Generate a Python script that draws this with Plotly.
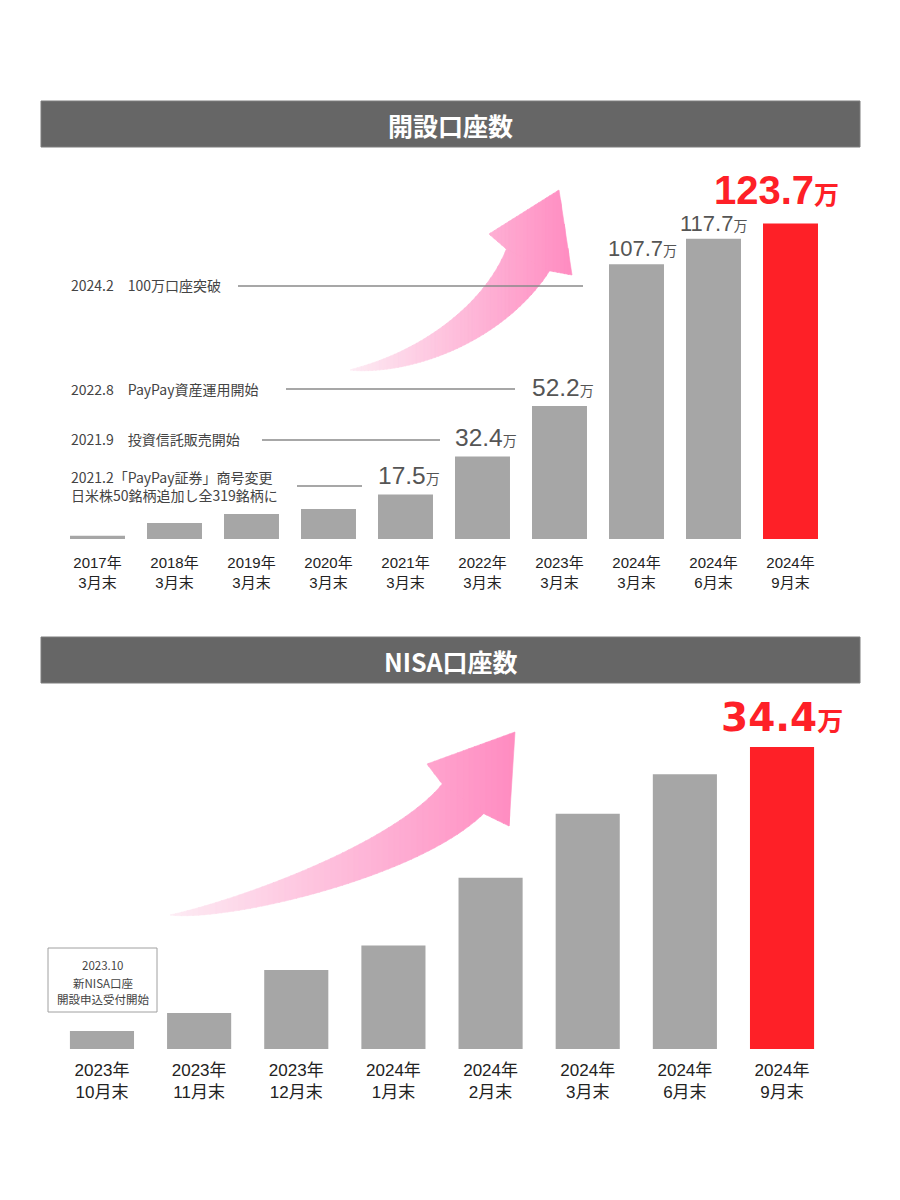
import math
import plotly.graph_objects as go

W, H = 900, 1200
OX, OY = 8, 8  # page body margin offset

# ---------------- data ----------------
acct_categories = ["2017年<br>3月末", "2018年<br>3月末", "2019年<br>3月末", "2020年<br>3月末",
                   "2021年<br>3月末", "2022年<br>3月末", "2023年<br>3月末", "2024年<br>3月末",
                   "2024年<br>6月末", "2024年<br>9月末"]
acct_values = [1.3, 6.3, 9.8, 11.8, 17.5, 32.4, 52.2, 107.7, 117.7, 123.7]
acct_value_labels = ["", "", "", "", "17.5", "32.4", "52.2", "107.7", "117.7", "123.7"]

nisa_categories = ["2023年<br>10月末", "2023年<br>11月末", "2023年<br>12月末", "2024年<br>1月末",
                   "2024年<br>2月末", "2024年<br>3月末", "2024年<br>6月末", "2024年<br>9月末"]
nisa_values = [2.05, 4.1, 9.0, 11.8, 19.5, 26.8, 31.3, 34.4]
nisa_value_labels = ["", "", "", "", "", "", "", "34.4"]

unit = "万"
titles = ["開設口座数", "NISA口座数"]
event_texts = ["2024.2　100万口座突破",
               "2022.8　PayPay資産運用開始",
               "2021.9　投資信託販売開始",
               "2021.2「PayPay証券」商号変更<br>日米株50銘柄追加し全319銘柄に"]
nisa_note_lines = ["2023.10", "新NISA口座", "開設申込受付開始"]

# ---------------- style ----------------
GRAY = "#a6a6a6"
RED = "#fe2027"
HEAD = "#666666"
CJK = "Noto Sans CJK JP"
REG = "Liberation Sans, " + CJK


def P(x, y):
    return (x - OX) / W, 1 - (y - OY) / H


def path_str(pts):
    return "M " + " L ".join(f"{(x - OX) / W:.5f},{1 - (y - OY) / H:.5f}" for x, y in pts) + " Z"


def cubic(p0, c1, c2, p3, t):
    a = (1 - t) ** 3
    b = 3 * (1 - t) ** 2 * t
    c = 3 * (1 - t) * t * t
    d = t ** 3
    return (a * p0[0] + b * c1[0] + c * c2[0] + d * p3[0],
            a * p0[1] + b * c1[1] + c * c2[1] + d * p3[1])


def dcubic(p0, c1, c2, p3, t):
    a = 3 * (1 - t) ** 2
    b = 6 * (1 - t) * t
    c = 3 * t * t
    return (a * (c1[0] - p0[0]) + b * (c2[0] - c1[0]) + c * (p3[0] - c2[0]),
            a * (c1[1] - p0[1]) + b * (c2[1] - c1[1]) + c * (p3[1] - c2[1]))


def arrow_parts(tail, c1, c2, neck_l, neck_r, wing_l, tip, wing_r, power=1.0, n=80):
    neck = ((neck_l[0] + neck_r[0]) / 2, (neck_l[1] + neck_r[1]) / 2)
    half = math.hypot(neck_r[0] - neck_l[0], neck_r[1] - neck_l[1]) / 2
    dx, dy = dcubic(tail, c1, c2, neck, 1.0)
    L = math.hypot(dx, dy)
    nx, ny = -dy / L, dx / L
    sign = 1 if (nx * (neck_l[0] - neck[0]) + ny * (neck_l[1] - neck[1])) > 0 else -1
    upper, lower = [], []
    for k in range(n + 1):
        t = k / n
        cx, cy = cubic(tail, c1, c2, neck, t)
        dx, dy = dcubic(tail, c1, c2, neck, t)
        L = math.hypot(dx, dy)
        nx, ny = sign * -dy / L, sign * dx / L
        w = half * t ** power
        upper.append((cx + w * nx, cy + w * ny))
        lower.append((cx - w * nx, cy - w * ny))
    upper[-1] = neck_l
    lower[-1] = neck_r
    body = upper + lower[::-1]
    ex = ((neck[0] - tip[0]) * 0.06, (neck[1] - tip[1]) * 0.06)
    head = [(neck_l[0] + ex[0], neck_l[1] + ex[1]), wing_l, tip, wing_r,
            (neck_r[0] + ex[0], neck_r[1] + ex[1])]
    return body, head


def clip_slab(poly, x0, x1):
    def clip(pts, keep, xc):
        out = []
        for i in range(len(pts)):
            cur, prev = pts[i], pts[i - 1]

            def inter(a, b):
                t = (xc - a[0]) / (b[0] - a[0])
                return (xc, a[1] + t * (b[1] - a[1]))
            if keep(cur):
                if not keep(prev):
                    out.append(inter(prev, cur))
                out.append(cur)
            elif keep(prev):
                out.append(inter(prev, cur))
        return out
    p = clip(poly, lambda q: q[0] >= x0, x0)
    if len(p) < 3:
        return []
    p = clip(p, lambda q: q[0] <= x1, x1)
    return p if len(p) >= 3 else []


def gradient_shapes(polys, c0=(253, 236, 244), c1=(255, 140, 193), strips=60):
    xs = [p[0] for poly in polys for p in poly]
    xmin, xmax = min(xs), max(xs)
    step = (xmax - xmin) / strips
    shapes = []
    for poly in polys:
        for i in range(strips):
            a = xmin + i * step
            b = a + step
            piece = clip_slab(poly, a - 0.4, b + 0.4)
            if not piece:
                continue
            t = (i + 0.5) / strips
            col = "rgb({},{},{})".format(*[round(c0[j] + (c1[j] - c0[j]) * t) for j in range(3)])
            shapes.append(dict(type="path", path=path_str(piece), xref="paper", yref="paper",
                               fillcolor=col, line=dict(color=col, width=0.6), layer="below"))
    return shapes


fig = go.Figure()

fig.add_trace(go.Bar(
    x=acct_categories, y=acct_values, xaxis="x", yaxis="y",
    width=0.714,
    marker=dict(color=[GRAY] * (len(acct_values) - 1) + [RED], line=dict(width=0)),
    hoverinfo="skip", showlegend=False))

fig.add_trace(go.Bar(
    x=nisa_categories, y=nisa_values, xaxis="x2", yaxis="y2",
    width=0.66,
    marker=dict(color=[GRAY] * (len(nisa_values) - 1) + [RED], line=dict(width=0)),
    hoverinfo="skip", showlegend=False))

top_base, top_scale, top_top = 539, 2.55, 150
bot_base, bot_scale, bot_top = 1049, 8.78, 690

annotations = []
shapes = []

# arrows (horizontal pink gradient)
shapes += gradient_shapes(arrow_parts(tail=(350, 370), c1=(420, 364), c2=(498, 320),
                                      neck_l=(508, 245), neck_r=(552, 267),
                                      wing_l=(489, 234), tip=(559, 190), wing_r=(572, 275),
                                      power=0.85))
shapes += gradient_shapes(arrow_parts(tail=(170, 915), c1=(230, 912), c2=(410, 860),
                                      neck_l=(445, 780), neck_r=(487, 810),
                                      wing_l=(427, 764), tip=(515, 732), wing_r=(509, 826),
                                      power=0.95))

# header bars
for (y0, y1), title in zip([(101, 147), (637, 683)], titles):
    x0p, y0p = P(41, y1)
    x1p, y1p = P(860, y0)
    shapes.append(dict(type="rect", xref="paper", yref="paper", x0=x0p, x1=x1p, y0=y0p, y1=y1p,
                       fillcolor=HEAD, line=dict(color="#7c7c7c", width=1), layer="above"))
    annotations.append(dict(xref="paper", yref="paper", x=P(450.5, 0)[0], y=P(0, (y0 + y1) / 2 + 1)[1],
                            text=f"<b>{title}</b>", showarrow=False, xanchor="center", yanchor="middle",
                            font=dict(family=CJK, size=25, color="white")))

# event labels + leader lines
event_text_y = [285, 389, 439, 485.5]
event_lines = [(238, 583, 286), (286, 515, 389), (262, 440, 440), (297, 362, 486)]
for txt, ty, (lx0, lx1, ly) in zip(event_texts, event_text_y, event_lines):
    annotations.append(dict(xref="paper", yref="paper", x=P(69, 0)[0], y=P(0, ty)[1], text=txt,
                            showarrow=False, xanchor="left", yanchor="middle", align="left",
                            font=dict(family=CJK, size=14, color="#444444")))
    a = P(lx0, ly)
    b = P(lx1, ly)
    shapes.append(dict(type="line", xref="paper", yref="paper", x0=a[0], y0=a[1], x1=b[0], y1=b[1],
                       line=dict(color="#8a8a8a", width=1.5), layer="above"))

# value labels (top)
for i, (cat, v, lab) in enumerate(zip(acct_categories, acct_values, acct_value_labels)):
    if not lab:
        continue
    if i == len(acct_values) - 1:
        text = f"<b>{lab}</b><span style='font-size:25px'><b>{unit}</b></span>"
        font = dict(family=REG, size=40, color=RED)
        xs, ys = -14, 10
    elif i >= 7:
        text = f"{lab}<span style='font-size:14px;font-family:{CJK}'>{unit}</span>"
        font = dict(family=REG, size=22, color="#555555")
        xs, ys = (6 if i == 7 else 0), 1
    else:
        text = f"{lab}<span style='font-size:14px;font-family:{CJK}'>{unit}</span>"
        font = dict(family=REG, size=24.5, color="#555555")
        xs, ys = 3, 3
    annotations.append(dict(xref="x", yref="y", x=cat, y=v, text=text, showarrow=False,
                            xanchor="center", yanchor="bottom", xshift=xs, yshift=ys, font=font))

# value labels (bottom)
for i, (cat, v, lab) in enumerate(zip(nisa_categories, nisa_values, nisa_value_labels)):
    if not lab:
        continue
    text = f"<b>{lab}</b><span style='font-size:26px'><b>{unit}</b></span>"
    annotations.append(dict(xref="x2", yref="y2", x=cat, y=v, text=text, showarrow=False,
                            xanchor="center", yanchor="bottom", xshift=0, yshift=5,
                            font=dict(family="DejaVu Sans, " + CJK, size=39, color=RED)))

# NISA note box
bx0, by0 = P(48, 1012)
bx1, by1 = P(157, 948)
shapes.append(dict(type="rect", xref="paper", yref="paper", x0=bx0, x1=bx1, y0=by0, y1=by1,
                   fillcolor="white", line=dict(color="#a0a0a0", width=1), layer="above"))
for line, ly in zip(nisa_note_lines, [965, 983, 999]):
    annotations.append(dict(xref="paper", yref="paper", x=P(102.5, 0)[0], y=P(0, ly)[1], text=line,
                            showarrow=False, xanchor="center", yanchor="middle",
                            font=dict(family=CJK, size=11.5, color="#444444")))

fig.update_layout(
    width=W, height=H,
    margin=dict(l=0, r=0, t=0, b=0),
    paper_bgcolor="white", plot_bgcolor="white",
    showlegend=False,
    xaxis=dict(domain=[(59 - OX) / W, (829 - OX) / W], range=[-0.5, len(acct_categories) - 0.5],
               anchor="y", showgrid=False, zeroline=False, showline=False, ticks="",
               tickfont=dict(family=REG, size=15, color="#222222"), ticklabelstandoff=13,
               fixedrange=True),
    yaxis=dict(domain=[1 - (top_base - OY) / H, 1 - (top_top - OY) / H],
               range=[0, (top_base - top_top) / top_scale], visible=False, fixedrange=True),
    xaxis2=dict(domain=[(53.4 - OX) / W, (830.6 - OX) / W], range=[-0.5, len(nisa_categories) - 0.5],
                anchor="y2", showgrid=False, zeroline=False, showline=False, ticks="",
                tickfont=dict(family=REG, size=17, color="#222222"), ticklabelstandoff=9,
                fixedrange=True),
    yaxis2=dict(domain=[1 - (bot_base - OY) / H, 1 - (bot_top - OY) / H],
                range=[0, (bot_base - bot_top) / bot_scale], visible=False, fixedrange=True),
    shapes=shapes,
    annotations=annotations,
)

fig.write_html("out.html")
